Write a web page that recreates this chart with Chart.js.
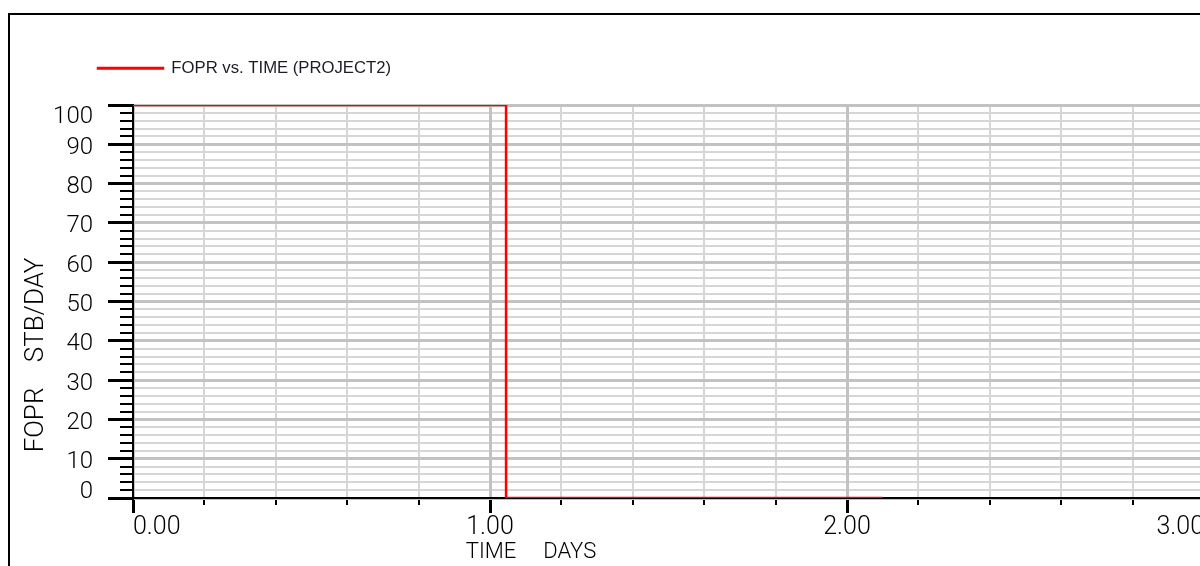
<!DOCTYPE html>
<html>
<head>
<meta charset="utf-8">
<title>FOPR vs. TIME</title>
<script src="https://cdn.jsdelivr.net/npm/chart.js@4.4.1/dist/chart.umd.min.js"></script>
<style>
  html, body { margin: 0; padding: 0; background: #fff; overflow: hidden; }
  canvas { display: block; }
</style>
</head>
<body>
<canvas id="plot" width="1230" height="600"></canvas>
<script>
// Field oil production rate, stepped between report times
const timeDays = [0, 1.045, 2.1];
const foprRate = [100, 0, 0];
const seriesLabel = 'FOPR vs. TIME (PROJECT2)';

// Axis tick labels and captions
const xTickLabels = ['0.00', '1.00', '2.00', '3.00'];
const yTickLabels = ['0', '10', '20', '30', '40', '50', '60', '70', '80', '90', '100'];
const xTitle = 'TIME     DAYS';
const yTitle = 'FOPR    STB/DAY';

const TICK_FAMILY = 'Roboto';
const TICK_WEIGHT = 300;

// Outer frame and axis captions
const framePlugin = {
  id: 'frameAndCaptions',
  beforeDraw(chart) {
    const ctx = chart.ctx;
    ctx.save();
    ctx.fillStyle = '#ffffff';
    ctx.fillRect(0, 0, chart.width, chart.height);
    ctx.strokeStyle = '#000000';
    ctx.lineWidth = 2;
    ctx.strokeRect(9, 14, chart.width + 50, chart.height + 50);
    ctx.restore();
  },
  afterDraw(chart) {
    const ctx = chart.ctx;
    ctx.save();
    ctx.fillStyle = '#000000';
    ctx.textAlign = 'center';
    ctx.textBaseline = 'alphabetic';
    ctx.font = `${TICK_WEIGHT} 22px ${TICK_FAMILY}`;
    ctx.fillText(xTitle, 531, 558);
    ctx.translate(43, 355);
    ctx.rotate(-Math.PI / 2);
    ctx.font = `${TICK_WEIGHT} 26px ${TICK_FAMILY}`;
    ctx.fillText(yTitle, 0, 0);
    ctx.restore();
  }
};

// Give the legend row a fixed height so the plot starts below it
const legendHeightPlugin = {
  id: 'legendHeight',
  beforeInit(chart) {
    const fit = chart.legend.fit;
    chart.legend.fit = function () {
      fit.call(this);
      this.height = 55;
    };
  }
};

const lastY = yTickLabels.length - 1;
// Vertical nudge of each y label (half of the spacer line height):
// labels sit a little below their tick, the end ones are kept inside the axis
const yLabelSpacer = (i) => (i === lastY ? 23 : (i === 0 ? 13 : 7));

new Chart(document.getElementById('plot'), {
  type: 'line',
  data: {
    datasets: [{
      label: seriesLabel,
      data: timeDays.map((t, i) => ({ x: t, y: foprRate[i] })),
      borderColor: '#ff0000',
      backgroundColor: '#ff0000',
      borderWidth: 2.5,
      pointRadius: 0,
      stepped: 'before',
      fill: false,
      xAxisID: 'x',
      yAxisID: 'y'
    }]
  },
  options: {
    responsive: false,
    devicePixelRatio: 1,
    animation: false,
    events: [],
    layout: { padding: { left: 88, top: 50, right: 26, bottom: 0 } },
    plugins: {
      tooltip: { enabled: false },
      legend: {
        position: 'top',
        align: 'start',
        labels: {
          boxWidth: 65,
          boxHeight: 0.5,
          padding: 10,
          color: '#1c1c28',
          font: { family: 'Liberation Sans', size: 16.7 }
        }
      }
    },
    scales: {
      x: {
        type: 'linear',
        position: 'bottom',
        weight: 1,
        min: 0,
        max: 3,
        afterFit(scale) { scale.height = 102; },
        ticks: {
          stepSize: 1,
          maxTicksLimit: 20,
          autoSkip: false,
          maxRotation: 0,
          align: 'inner',
          padding: 0,
          color: '#000000',
          font: { family: TICK_FAMILY, weight: TICK_WEIGHT, size: 25 },
          callback: (v, i) => xTickLabels[i]
        },
        grid: {
          z: -1,
          color: '#c2c2c2',
          lineWidth: 3,
          drawTicks: true,
          tickLength: 15,
          tickWidth: 3,
          tickColor: '#000000'
        },
        border: { display: true, color: '#000000', width: 2 }
      },
      xMinor: {
        type: 'linear',
        position: 'bottom',
        weight: 0,
        min: 0,
        max: 3,
        afterFit(scale) { scale.height = 0; },
        ticks: { display: false, stepSize: 0.2, maxTicksLimit: 100, autoSkip: false },
        grid: {
          z: -2,
          color: '#d6d6d6',
          lineWidth: 2,
          drawTicks: true,
          tickLength: 7,
          tickWidth: 2,
          tickColor: '#000000'
        },
        border: { display: false }
      },
      y: {
        type: 'linear',
        position: 'left',
        weight: 1,
        min: 0,
        max: 100,
        afterFit(scale) {
          scale.width = 45;
          // labels sit left of the padded area, so do not clip them to the axis box
          scale._computeLabelArea = () => null;
        },
        ticks: {
          stepSize: 10,
          maxTicksLimit: 20,
          autoSkip: false,
          padding: 15,
          color: '#000000',
          font: (c) => ({
            family: TICK_FAMILY,
            weight: TICK_WEIGHT,
            size: 24,
            lineHeight: yLabelSpacer(c.index) + 'px'
          }),
          callback: (v, i) => {
            const t = yTickLabels[i];
            return i === 0 ? [t, ''] : ['', t];
          }
        },
        grid: {
          z: -1,
          color: '#c2c2c2',
          lineWidth: 3,
          drawTicks: true,
          tickLength: 25,
          tickWidth: 3,
          tickColor: '#000000'
        },
        border: { display: true, color: '#000000', width: 2 }
      },
      yMinor: {
        type: 'linear',
        position: 'left',
        weight: 0,
        min: 0,
        max: 100,
        afterFit(scale) { scale.width = 0; },
        ticks: { display: false, stepSize: 2, maxTicksLimit: 100, autoSkip: false },
        grid: {
          z: -2,
          color: '#d6d6d6',
          lineWidth: 2,
          drawTicks: true,
          tickLength: 13,
          tickWidth: 2,
          tickColor: '#000000'
        },
        border: { display: false }
      }
    }
  },
  plugins: [framePlugin, legendHeightPlugin]
});
</script>
</body>
</html>
